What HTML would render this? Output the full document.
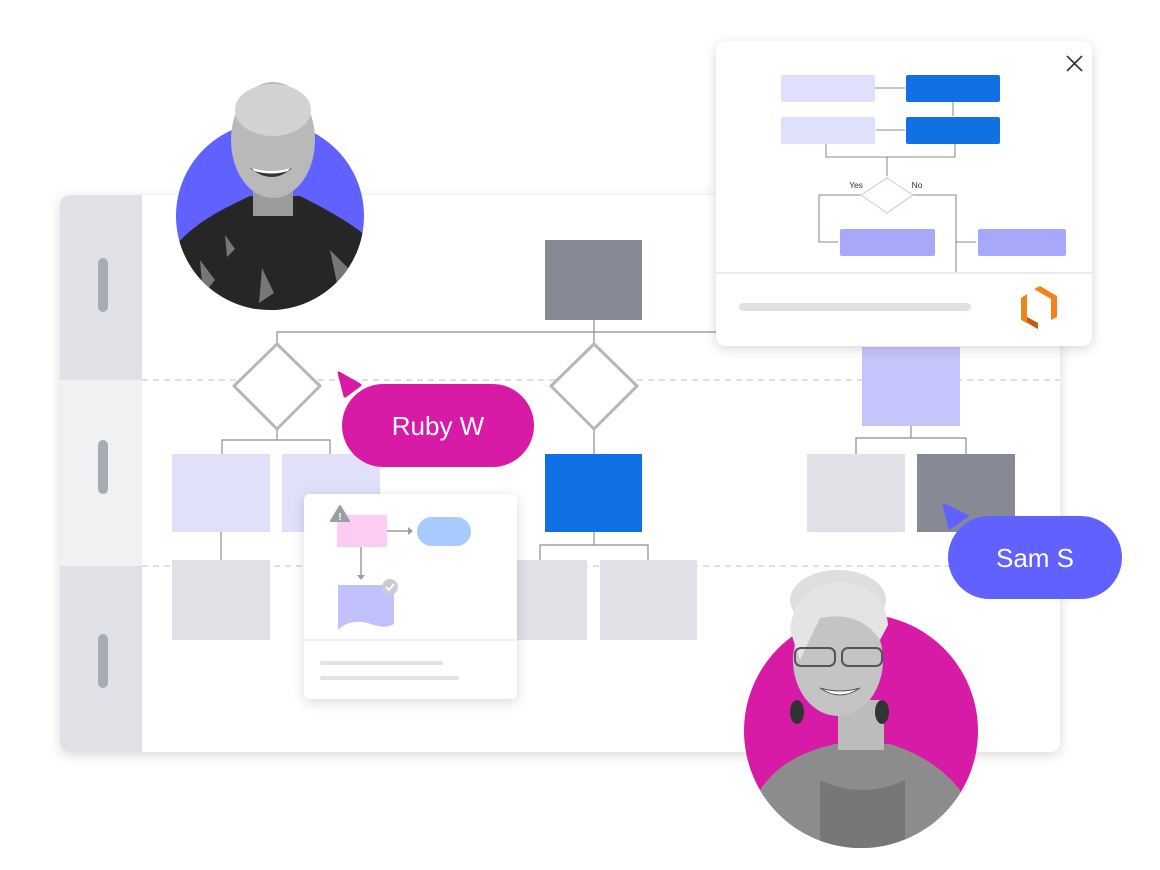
<!DOCTYPE html>
<html><head><meta charset="utf-8"><style>
html,body{margin:0;padding:0;background:#fff;width:1160px;height:870px;overflow:hidden}
svg{display:block}
text{font-family:"Liberation Sans",sans-serif}
</style></head><body>
<svg width="1160" height="870" viewBox="0 0 1160 870" xmlns="http://www.w3.org/2000/svg">
<defs>
<filter id="sh" x="-20%" y="-20%" width="140%" height="140%"><feDropShadow dx="0" dy="3" stdDeviation="6" flood-color="#000" flood-opacity="0.15"/></filter>
<clipPath id="cm"><circle cx="270" cy="216" r="94"/><rect x="150" y="60" width="240" height="156"/></clipPath>
<clipPath id="cw"><circle cx="861" cy="731" r="117"/><rect x="740" y="540" width="240" height="191"/></clipPath>
<clipPath id="pc"><rect x="716" y="41" width="376" height="305" rx="10"/></clipPath>
</defs>
<!-- main panel -->
<rect x="60" y="195" width="1000" height="557" rx="10" fill="#fff" filter="url(#sh)"/>
<path d="M70 195 H142 V380 H60 V205 A10 10 0 0 1 70 195Z" fill="#dfe1e6"/>
<rect x="60" y="380" width="82" height="186" fill="#f0f1f3"/>
<path d="M60 566 H142 V752 H70 A10 10 0 0 1 60 742Z" fill="#dfe1e6"/>
<rect x="98" y="258" width="10" height="54" rx="5" fill="#a7abb3"/>
<rect x="98" y="440" width="10" height="54" rx="5" fill="#a7abb3"/>
<rect x="98" y="634" width="10" height="54" rx="5" fill="#a7abb3"/>
<line x1="142" y1="380" x2="1060" y2="380" stroke="#d3d5da" stroke-width="1.5" stroke-dasharray="6 5"/>
<line x1="142" y1="566" x2="1060" y2="566" stroke="#d3d5da" stroke-width="1.5" stroke-dasharray="6 5"/>
<!-- connectors -->
<g stroke="#8a8e96" stroke-width="1.2" fill="none">
<path d="M594 320 V332 M277 344 V332 H740 M594 332 V344"/>
<path d="M277 430 V440 H222 V454 M277 440 H330 V454 M221 532 V560"/>
<path d="M594 430 V454 M594 532 V545 H540 V560 M594 545 H648 V560"/>
<path d="M911 426 V438 H856 V454 M911 438 H966 V454"/>
</g>
<rect x="545" y="240" width="97" height="80" fill="#858a94"/>
<polygon points="277,344 320,386 277,429 234,386" fill="#fff" stroke="#b3b6bd" stroke-width="3" stroke-linejoin="round"/>
<polygon points="594,344 637,386 594,429 551,386" fill="#fff" stroke="#b3b6bd" stroke-width="3" stroke-linejoin="round"/>
<rect x="172" y="454" width="98" height="78" fill="#e0e0fb"/>
<rect x="282" y="454" width="98" height="78" fill="#e0e0fb"/>
<rect x="172" y="560" width="98" height="80" fill="#dfe1e6"/>
<rect x="545" y="454" width="97" height="78" fill="#1071e5"/>
<rect x="490" y="560" width="97" height="80" fill="#dfe1e6"/>
<rect x="600" y="560" width="97" height="80" fill="#dfe1e6"/>
<rect x="862" y="347" width="98" height="79" fill="#c5c5fb"/>
<rect x="807" y="454" width="98" height="78" fill="#dfe1e6"/>
<rect x="917" y="454" width="98" height="78" fill="#858a94"/>
<!-- small card -->
<rect x="304" y="494" width="213" height="205" rx="6" fill="#fff" filter="url(#sh)"/>
<rect x="337" y="515" width="50" height="32" fill="#ffcdf3"/>
<rect x="417" y="517" width="54" height="29" rx="14.5" fill="#a7cbfe"/>
<g stroke="#9a9ea6" stroke-width="1.5" fill="none"><path d="M387 531 H408"/><path d="M361 547 V575"/></g>
<polygon points="408,527 413,531 408,535" fill="#9a9ea6"/>
<polygon points="357,575 365,575 361,580" fill="#9a9ea6"/>
<polygon points="340,506 349,521 331,521" fill="#9a9ea6" stroke="#9a9ea6" stroke-width="2" stroke-linejoin="round"/>
<text x="340" y="520" font-size="10" font-weight="bold" fill="#fff" text-anchor="middle">!</text>
<path d="M338 585 H394 V624 C380 632 370 620 355 622 C346 623 341 627 338 630Z" fill="#c2c1fd"/>
<circle cx="390" cy="587" r="8" fill="#c9ccd2"/>
<path d="M386 587 L389 590 L394 584" stroke="#fff" stroke-width="1.8" fill="none"/>
<line x1="304" y1="640" x2="517" y2="640" stroke="#e2e4e8" stroke-width="1"/>
<rect x="320" y="661" width="123" height="4" rx="2" fill="#e1e3e7"/>
<rect x="320" y="676" width="139" height="4" rx="2" fill="#e1e3e7"/>
<!-- Ruby pill -->
<rect x="342" y="384" width="192" height="83" rx="41.5" fill="#d81ba6"/>
<text x="438" y="435" font-size="26" fill="#fff" text-anchor="middle">Ruby W</text>
<polygon points="339,373 360,385 345,396" fill="#d81ba6" stroke="#d81ba6" stroke-width="3" stroke-linejoin="round"/>
<!-- Sam pill -->
<rect x="948" y="516" width="174" height="83" rx="41.5" fill="#6161ff"/>
<text x="1035" y="567" font-size="26" fill="#fff" text-anchor="middle">Sam S</text>
<polygon points="944,505 967,516 950,528" fill="#6161ff" stroke="#6161ff" stroke-width="3" stroke-linejoin="round"/>
<!-- popup -->
<rect x="716" y="41" width="376" height="305" rx="10" fill="#fff" filter="url(#sh)"/>
<g clip-path="url(#pc)">
<rect x="781" y="75" width="94" height="27" rx="2" fill="#dfe0fc"/>
<rect x="906" y="75" width="94" height="27" rx="2" fill="#1071e5"/>
<rect x="781" y="117" width="94" height="27" rx="2" fill="#dfe0fc"/>
<rect x="906" y="117" width="94" height="27" rx="2" fill="#1071e5"/>
<g stroke="#666" stroke-width="0.8" fill="none">
<path d="M875 88 H905 M953 102 V116 M905 130 H876 M826 144 V157 H955 V144 M887 157 V176 M861 195 H819 V242 H838 M913 195 H956 V272 M956 242 H976"/>
</g>
<polygon points="861,195 887,178 913,195 887,213" fill="#fff" stroke="#c5c5fb" stroke-width="1"/>
<text x="856" y="188" font-size="8.5" fill="#333" text-anchor="middle">Yes</text>
<text x="917" y="188" font-size="8.5" fill="#333" text-anchor="middle">No</text>
<rect x="840" y="229" width="95" height="27" rx="2" fill="#a8a8fb"/>
<rect x="978" y="229" width="88" height="27" rx="2" fill="#a8a8fb"/>
<rect x="716" y="273" width="376" height="73" fill="#fff"/>
<line x1="716" y1="273" x2="1092" y2="273" stroke="#e2e4e8" stroke-width="1.5"/>
</g>
<path d="M1067 56 L1082 71 M1082 56 L1067 71" stroke="#333" stroke-width="1.6"/>
<rect x="739" y="303" width="232" height="8" rx="4" fill="#dfe1e6"/>
<path d="M1021 298 L1027 294 L1027 317 L1038 323 L1038 329 L1021 320Z" fill="#f08220"/>
<path d="M1034 289 L1040 286 L1057 296 L1057 317 L1051 320 L1051 299Z" fill="#f08220"/>
<path d="M1027 317 L1038 323 L1038 329 L1027 322Z" fill="#c75a10"/>
<!-- man photo -->
<circle cx="270" cy="216" r="94" fill="#6161ff"/>
<g clip-path="url(#cm)">
<path d="M176 245 C200 218 230 206 250 196 L300 196 C320 206 350 222 366 236 L366 320 L176 320Z" fill="#262626"/>
<path d="M200 260 l15 20 l-12 15Z M330 250 l18 18 l-10 20Z M262 268 l12 25 l-15 10Z M225 235 l10 14 l-8 8Z" fill="#9a9a9a" opacity="0.7"/>
<rect x="253" y="180" width="40" height="36" fill="#9b9b9b"/>
<ellipse cx="273" cy="140" rx="42" ry="58" fill="#b9b9b9"/>
<ellipse cx="273" cy="110" rx="38" ry="26" fill="#d2d2d2"/>
<path d="M250 168 Q272 186 292 168 Q272 176 250 168Z" fill="#333"/>
<path d="M252 168 Q272 174 290 168 L288 171 Q272 176 254 171Z" fill="#fff"/>
</g>
<!-- woman photo -->
<circle cx="861" cy="731" r="117" fill="#d81ba6"/>
<g clip-path="url(#cw)">
<path d="M760 790 C780 760 810 750 835 744 L890 744 C915 752 940 765 960 790 L960 860 L760 860Z" fill="#8c8c8c"/>
<path d="M820 780 Q862 800 905 780 L905 860 L820 860Z" fill="#777"/>
<rect x="838" y="700" width="46" height="50" fill="#bcbcbc"/>
<ellipse cx="838" cy="600" rx="48" ry="30" fill="#dedede"/>
<ellipse cx="838" cy="660" rx="45" ry="56" fill="#c4c4c4"/>
<path d="M790 630 Q795 585 840 582 Q885 586 888 625 L880 640 Q860 610 820 618 L800 660Z" fill="#e4e4e4"/>
<rect x="795" y="648" width="40" height="18" rx="6" fill="none" stroke="#555" stroke-width="2"/>
<rect x="842" y="648" width="40" height="18" rx="6" fill="none" stroke="#555" stroke-width="2"/>
<path d="M820 688 Q840 702 860 688 Q840 694 820 688Z" fill="#fff" stroke="#555"/>
<ellipse cx="797" cy="712" rx="7" ry="12" fill="#333"/>
<ellipse cx="882" cy="712" rx="7" ry="12" fill="#333"/>
</g>
</svg>
</body></html>
